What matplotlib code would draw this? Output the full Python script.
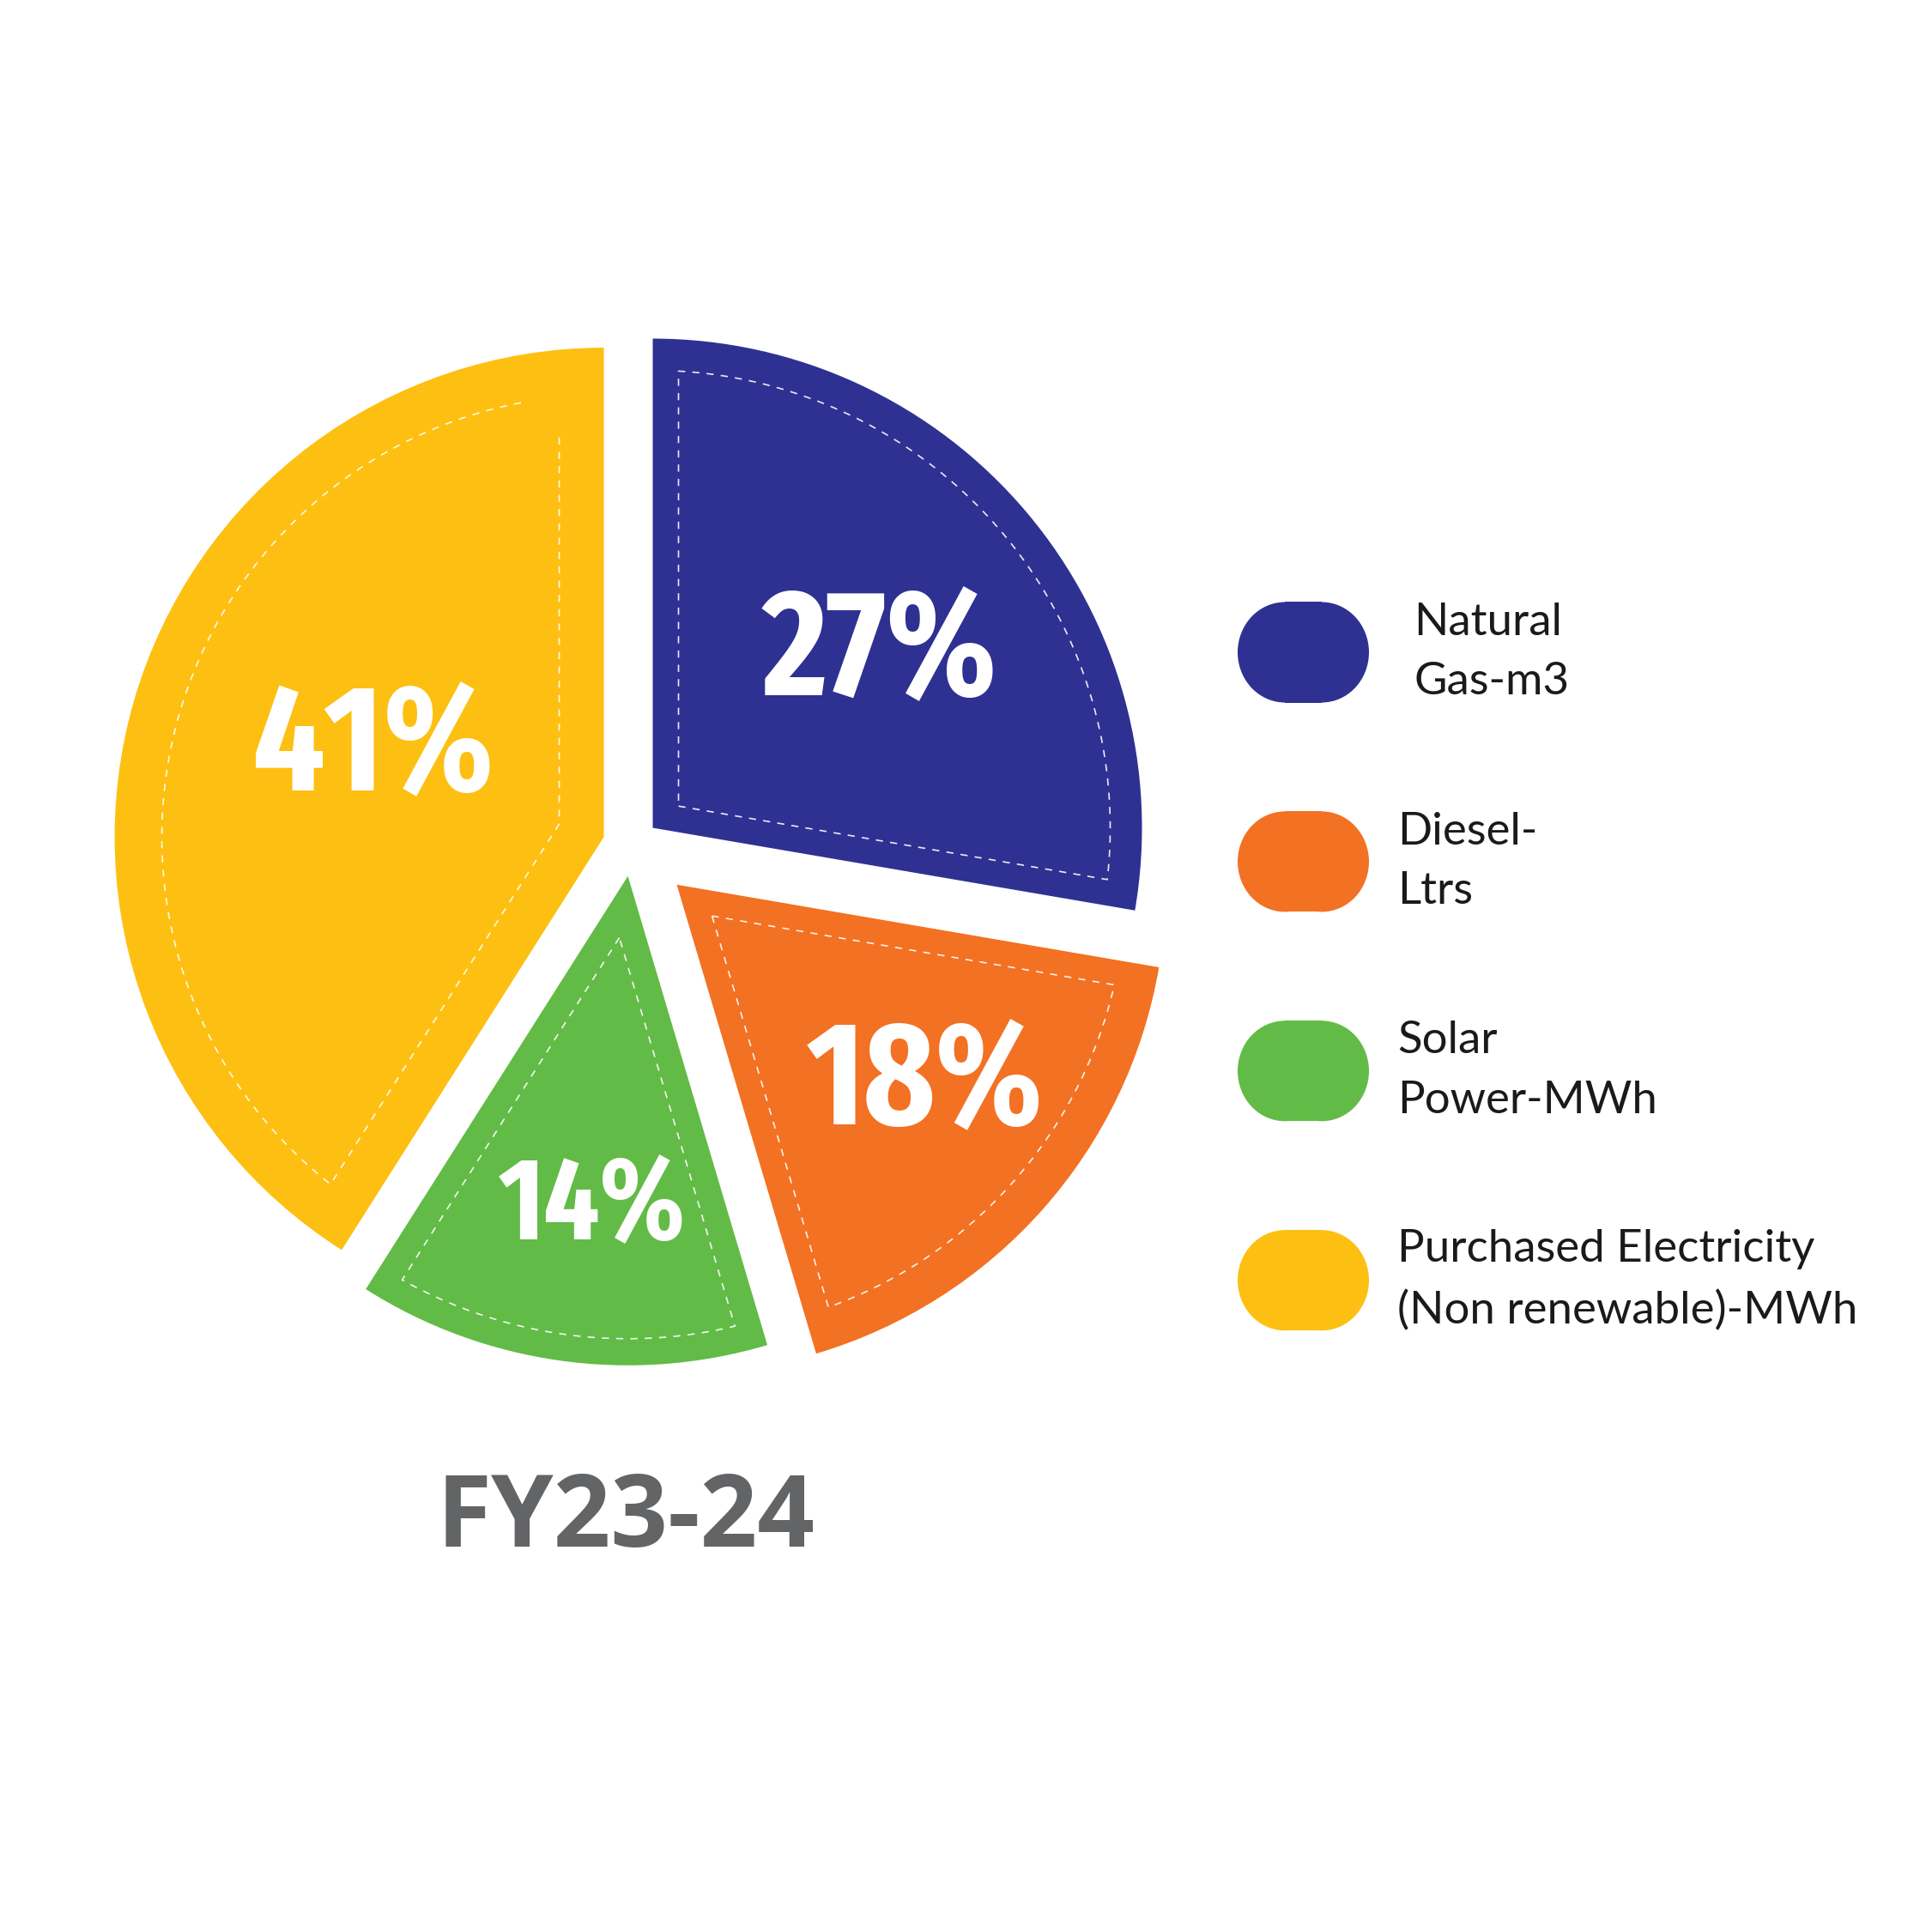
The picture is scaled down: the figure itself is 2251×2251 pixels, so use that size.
import os
import matplotlib
matplotlib.use('Agg')
import matplotlib.pyplot as plt
from matplotlib import font_manager
from matplotlib.font_manager import FontProperties
from matplotlib.patches import Ellipse, Rectangle
from matplotlib.textpath import TextPath
import numpy as np

# data
sources = ['Natural\nGas-m3', 'Diesel-\nLtrs', 'Solar\nPower-MWh',
           'Purchased Electricity\n(Non renewable)-MWh']
shares = [27.7, 17.7, 13.6, 41.0]
pct_labels = ['27%', '18%', '14%', '41%']
colors = ['#2E3192', '#F37123', '#62BB46', '#FDC012']
title = 'FY23-24'

W = H = 2251
R = 570.0                 # pie radius (px)
CX, CY = 736.6, 984.7     # pie centre (px, y down)

installed = {f.name for f in font_manager.fontManager.ttflist}


def pick(*names):
    for n in names:
        if n in installed:
            return n
    return 'DejaVu Sans'


def condensed_bold():
    # narrowest bold sans we can find for the big percentages
    best = None
    for f in font_manager.fontManager.ttflist:
        fn = os.path.basename(f.fname).lower()
        name = f.name.lower()
        if 'mono' in name or 'serif' in name or f.style != 'normal':
            continue
        w = f.weight if isinstance(f.weight, int) else (700 if 'bold' in str(f.weight) else 400)
        if w != 700:
            continue
        if 'extracondensed' in fn or 'extra condensed' in name:
            r = 0
        elif 'semicondensed' in fn:
            r = 2
        elif 'condensed' in fn or 'condensed' in name or 'narrow' in name or f.stretch == 'condensed':
            r = 1
        else:
            continue
        if best is None or r < best[0]:
            best = (r, f.fname)
    return best[1] if best else None


cb = condensed_bold()
pct_fp = FontProperties(fname=cb) if cb else FontProperties(family=pick('Liberation Sans'), weight='bold')
leg_font = pick('Lato', 'Open Sans')
title_font = pick('Open Sans', 'Lato')

fig = plt.figure(figsize=(W / 100, H / 100), dpi=100)
ax = fig.add_axes([0, 0, 1, 1])

# wedge offsets (px) and inner dashed outline insets (px)
explode_px = [31.3, 69.4, 36.4, 34.4]
edge_inset = [30, 29, 30, 52]
arc_inset = [37, 47, 31, 55]
top_gap = [0, 0, 0, 45]

wedges, _ = ax.pie(shares, colors=colors, startangle=90, counterclock=False,
                   explode=[e / R for e in explode_px], radius=1,
                   center=(0, 0), frame=False,
                   wedgeprops=dict(linewidth=0))
ax.set_xlim(-CX / R, (W - CX) / R)
ax.set_ylim((CY - H) / R, CY / R)
ax.set_aspect('equal')
ax.axis('off')


def outline(w, t, a, gap):
    cx, cy = w.center
    th1, th2 = np.radians(w.theta1), np.radians(w.theta2)
    half = (th2 - th1) / 2
    mid = th1 + half
    s = t / np.sin(half)
    apex = np.array([cx + s * np.cos(mid), cy + s * np.sin(mid)])
    ra = w.r - a
    d = np.arcsin(t / ra)
    phi = np.linspace(th1 + d + gap / ra, th2 - d, 300)
    arc = np.column_stack([cx + ra * np.cos(phi), cy + ra * np.sin(phi)])
    start = np.array([cx + ra * np.cos(th1 + d), cy + ra * np.sin(th1 + d)])
    if gap > 0:
        v = start - apex
        end = apex + v * (1 - gap / np.hypot(*v))
        pts = np.vstack([arc, apex, end])
    else:
        pts = np.vstack([apex, arc, apex])
    ax.plot(pts[:, 0], pts[:, 1], color='white', lw=1.2,
            ls=(0, (5, 5)), alpha=0.9, solid_joinstyle='miter')


for i, w in enumerate(wedges):
    outline(w, edge_inset[i] / R, arc_inset[i] / R, top_gap[i] / R)


def ink(s, fp):
    ext = TextPath((0, 0), s, size=100, prop=fp).get_extents()
    return ext.width, ext.height


# percentage labels: target ink width / cap height in px
lab_frac = [0.600, 0.637, 0.666, 0.512]
lab_turn = [-0.9, 4.45, 1.6, -7.3]
lab_w = [251, 244, 195, 252]
lab_cap = [134, 135, 106, 135]
_, cap100 = ink('H', pct_fp)
for i, (w, txt) in enumerate(zip(wedges, pct_labels)):
    w100, _ = ink(txt, pct_fp)
    fs_w = lab_w[i] * 72 / w100
    fs_h = lab_cap[i] * 72 / cap100
    fs = fs_w ** 0.55 * fs_h ** 0.45
    cap = cap100 * fs / 72 / R
    cx, cy = w.center
    ang = np.radians((w.theta1 + w.theta2) / 2 + lab_turn[i])
    x = cx + lab_frac[i] * w.r * np.cos(ang)
    y = cy + lab_frac[i] * w.r * np.sin(ang)
    ax.text(x, y - cap / 2, txt, ha='center', va='baseline', color='white',
            fontproperties=pct_fp, fontsize=fs)

# legend: pill keys (two half-ellipses joined by a short bar) + labels
row_top = 760.0
row_step = 243.9
pill_x, pill_w, pill_h, pill_end = 1442, 153, 117, 55
text_x = [1647, 1628, 1628, 1628]
for i, (lab, col) in enumerate(zip(sources, colors)):
    yc = row_top + i * row_step
    for ex in (pill_x + pill_end, pill_x + pill_w - pill_end):
        fig.add_artist(Ellipse((ex / W, 1 - yc / H), 2 * pill_end / W, pill_h / H,
                               transform=fig.transFigure, fc=col, ec='none'))
    fig.add_artist(Rectangle(((pill_x + pill_end) / W, 1 - (yc + pill_h / 2) / H),
                             (pill_w - 2 * pill_end) / W, pill_h / H,
                             transform=fig.transFigure, fc=col, ec='none'))
    fig.text(text_x[i] / W, 1 - yc / H, lab, ha='left', va='center',
             fontsize=38, family=leg_font, color='#1a1a1a', linespacing=1.6)

fig.text(729 / W, 1 - 1802 / H, title, ha='center', va='baseline',
         fontsize=84, fontweight='bold', color='#636466', family=title_font)

fig.savefig('out.png', dpi=100, facecolor='white')
